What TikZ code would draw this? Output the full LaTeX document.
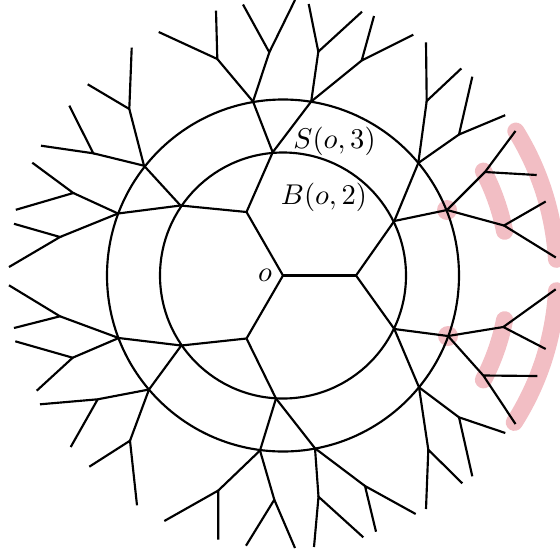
\documentclass[tikz,border=0pt]{standalone}
\definecolor{hl}{RGB}{242,190,196}
\begin{document}
\begin{tikzpicture}[x=0.35pt,y=-0.35pt,
  edge/.style={line width=0.75pt},
  ring/.style={line width=0.75pt},
  band/.style={hl,line width=6pt,line cap=round},
  lbl/.style={inner sep=0pt}]
\useasboundingbox (0,0) rectangle (560,554);
% vertices
\coordinate (o) at (283,275.5);
\coordinate (a) at (356,275.5);
\coordinate (b) at (246.5,212);
\coordinate (c) at (246.5,338.5);
\coordinate (a1) at (394.3,221);
\coordinate (a2) at (394.3,329);
\coordinate (b1) at (180.5,205.5);
\coordinate (b2) at (272.7,152.3);
\coordinate (c1) at (181.3,345.5);
\coordinate (c2) at (276,398.5);
\coordinate (a11) at (418.3,163);
\coordinate (a12) at (447,210);
\coordinate (a21) at (448,336);
\coordinate (a22) at (419,387.3);
\coordinate (b11) at (144,165.7);
\coordinate (b12) at (118,213.5);
\coordinate (b21) at (253,101.5);
\coordinate (b22) at (311.2,101.5);
\coordinate (c11) at (118.7,338);
\coordinate (c12) at (149,389.5);
\coordinate (c21) at (260,450.5);
\coordinate (c22) at (315,448.3);
% level 4
\coordinate (a111) at (426.7,101);
\coordinate (a112) at (459,134.5);
\coordinate (a121) at (485,172);
\coordinate (a122) at (504,225.5);
\coordinate (a211) at (503.3,327);
\coordinate (a212) at (483.3,375.5);
\coordinate (a221) at (459,417.3);
\coordinate (a222) at (428.3,449.7);
\coordinate (b111) at (129.3,109);
\coordinate (b112) at (93.3,153.3);
\coordinate (b121) at (73.3,193);
\coordinate (b122) at (60,237);
\coordinate (b211) at (217.3,59);
\coordinate (b212) at (269.3,52.3);
\coordinate (b221) at (318.3,51.7);
\coordinate (b222) at (361.7,60.5);
\coordinate (c111) at (60,316.3);
\coordinate (c112) at (72.7,357.7);
\coordinate (c121) at (97.7,399.3);
\coordinate (c122) at (130,440.7);
\coordinate (c211) at (218.3,490.5);
\coordinate (c212) at (274.3,499.7);
\coordinate (c221) at (318.5,496.7);
\coordinate (c222) at (365,486);
% leaves
\coordinate (a111x) at (426,42.3);   \coordinate (a111y) at (461.3,68.5);
\coordinate (a112x) at (472.3,76.7); \coordinate (a112y) at (505.2,115.2);
\coordinate (a121x) at (515.5,131);  \coordinate (a121y) at (536.7,175);
\coordinate (a122x) at (545.7,201.5);\coordinate (a122y) at (555.8,257.5);
\coordinate (a211x) at (555.7,289.3);\coordinate (a211y) at (545.7,349);
\coordinate (a212x) at (537.3,376);  \coordinate (a212y) at (515.5,424);
\coordinate (a221x) at (505.3,433);  \coordinate (a221y) at (472.3,476.3);
\coordinate (a222x) at (462.3,483.3);\coordinate (a222y) at (426,509);
\coordinate (b111x) at (131.7,47.7); \coordinate (b111y) at (87.7,84.3);
\coordinate (b112x) at (69.3,105.7); \coordinate (b112y) at (41,145.7);
\coordinate (b121x) at (32.3,162.7); \coordinate (b121y) at (15.8,209.8);
\coordinate (b122x) at (14,223.8);   \coordinate (b122y) at (9,267);
\coordinate (b211x) at (216,10.7);   \coordinate (b211y) at (158.7,32);
\coordinate (b212x) at (243,4.5);    \coordinate (b212y) at (295,0);
\coordinate (b221x) at (308.7,4);    \coordinate (b221y) at (362,11.7);
\coordinate (b222x) at (374,16);     \coordinate (b222y) at (413.3,34.7);
\coordinate (c111x) at (9,285.3);    \coordinate (c111y) at (14,328);
\coordinate (c112x) at (15.3,341.3); \coordinate (c112y) at (36.7,390.7);
\coordinate (c121x) at (40,404.3);   \coordinate (c121y) at (70.7,447);
\coordinate (c122x) at (89.3,466.7); \coordinate (c122y) at (137,505.3);
\coordinate (c211x) at (218.3,539.7);\coordinate (c211y) at (164.3,521);
\coordinate (c212x) at (246,545.7);  \coordinate (c212y) at (295,548);
\coordinate (c221x) at (314,547);    \coordinate (c221y) at (363.3,537.3);
\coordinate (c222x) at (376,531.7);  \coordinate (c222y) at (415.7,514);
% highlights
\fill[hl] (a12) circle[radius=10];
\fill[hl] (a21) circle[radius=10];
\draw[band] (o) ++(-27.5:226) arc[start angle=-27.5,end angle=-11.3,radius=226];
\draw[band] (o) ++(11.3:226) arc[start angle=11.3,end angle=27.5,radius=226];
\draw[band] (o) ++(-31.8:274) arc[start angle=-31.8,end angle=-3.4,radius=274];
\draw[band] (o) ++(3.2:274) arc[start angle=3.2,end angle=32.4,radius=274];
% circles
\draw[ring] (o) circle[radius=123];
\draw[ring] (o) circle[radius=176];
% edges
\foreach \p/\q in {o/a,o/b,o/c,a/a1,a/a2,b/b1,b/b2,c/c1,c/c2,
  a1/a11,a1/a12,a2/a21,a2/a22,b1/b11,b1/b12,b2/b21,b2/b22,c1/c11,c1/c12,c2/c21,c2/c22,
  a11/a111,a11/a112,a12/a121,a12/a122,a21/a211,a21/a212,a22/a221,a22/a222,
  b11/b111,b11/b112,b12/b121,b12/b122,b21/b211,b21/b212,b22/b221,b22/b222,
  c11/c111,c11/c112,c12/c121,c12/c122,c21/c211,c21/c212,c22/c221,c22/c222}
  \draw[edge] (\p) -- (\q);
\foreach \p in {a111,a112,a121,a122,a211,a212,a221,a222,
  b111,b112,b121,b122,b211,b212,b221,b222,
  c111,c112,c121,c122,c211,c212,c221,c222}
  {\draw[edge] (\p x) -- (\p) -- (\p y);}
% labels
\node[lbl] (lo) at (265,275) {$o$};
\node[lbl] (lS) at (334.5,141.5) {$S(o,3)$};
\node[lbl] (lB) at (324,197.5) {$B(o,2)$};
\end{tikzpicture}
\end{document}
